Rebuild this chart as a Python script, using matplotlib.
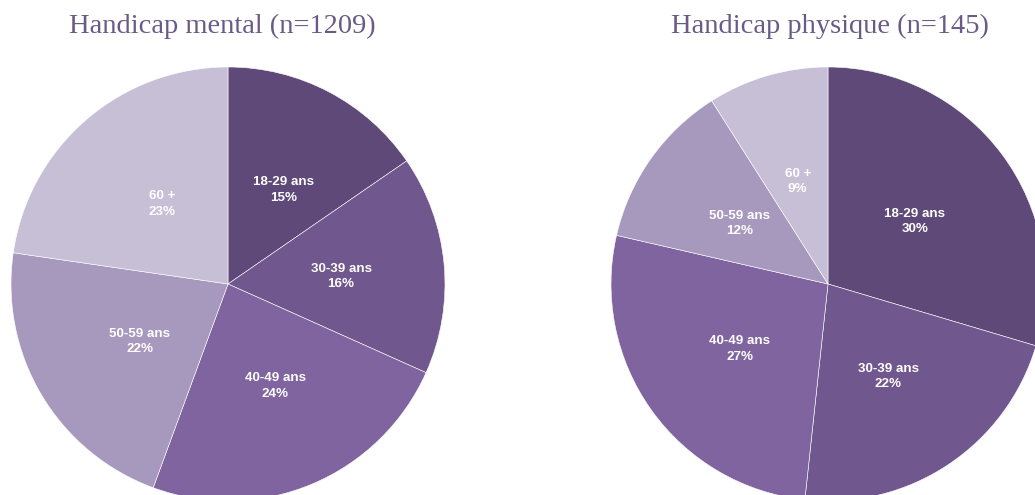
import matplotlib
matplotlib.use("Agg")
import matplotlib.pyplot as plt

categories = ["18-29 ans", "30-39 ans", "40-49 ans", "50-59 ans", "60 +"]
mental_values = [15.4, 16.3, 23.9, 21.7, 22.7]
physique_values = [29.6, 22.1, 26.9, 12.4, 9.0]
titles = ["Handicap mental (n=1209)", "Handicap physique (n=145)"]
colors = ["#5E4978", "#70578D", "#7F64A0", "#A799BD", "#C7BFD6"]

W, H = 1035, 495
fig = plt.figure(figsize=(W / 100, H / 100), dpi=100)

R = 217
centers = [(228, 284), (828, 284)]
title_x = [222, 830]
label_dx = [5, 0]

for (cx, cy), vals, title, tx, ldx in zip(centers, [mental_values, physique_values], titles, title_x, label_dx):
    ax = fig.add_axes([(cx - R) / W, (H - cy - R) / H, 2 * R / W, 2 * R / H])
    wedges, texts, autotexts = ax.pie(
        vals, colors=colors, startangle=90, counterclock=False,
        autopct=lambda p: "", pctdistance=0.5,
        wedgeprops=dict(edgecolor="white", linewidth=0.4),
    )
    for t, cat, v in zip(autotexts, categories, vals):
        x, y = t.get_position()
        t.set_position((x + ldx / R, y - 2 / R))
        t.set_text(f"{cat}\n{round(v)}%")
        t.set_color("white")
        t.set_fontsize(9.6)
        t.set_fontweight("bold")
        t.set_family("Liberation Sans")
        t.set_linespacing(1.35)
    ax.set_xlim(-1, 1)
    ax.set_ylim(-1, 1)
    ax.set_aspect("equal")
    ax.axis("off")
    fig.text(tx / W, 1 - 26 / H, title, ha="center", va="center",
             fontsize=20.5, family="Liberation Serif", color="#6A5A86")

fig.savefig("out.png", dpi=100)
